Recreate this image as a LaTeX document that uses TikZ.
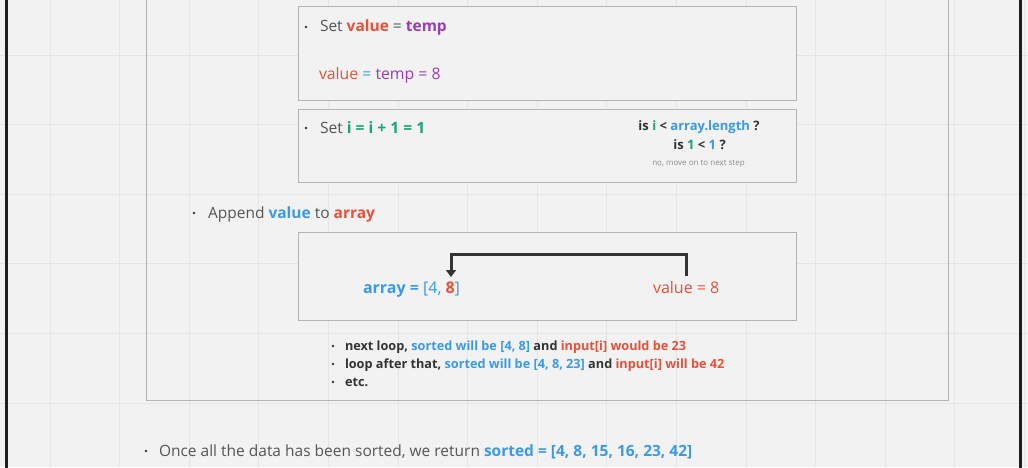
\documentclass[tikz,border=0pt]{standalone}
\usepackage{fontspec}
\setmainfont{Open Sans}
\usetikzlibrary{arrows.meta}
\definecolor{bg}{HTML}{F2F2F2}
\definecolor{gridc}{HTML}{E6E6E6}
\definecolor{framec}{HTML}{1E1E1E}
\definecolor{boxc}{HTML}{B4B4B4}
\definecolor{redc}{HTML}{E8503A}
\definecolor{bluec}{HTML}{3A9AE6}
\definecolor{greenc}{HTML}{17A37C}
\definecolor{purplec}{HTML}{9A3CB4}
\definecolor{darkc}{HTML}{333333}
\definecolor{grayc}{HTML}{555555}
\definecolor{hintc}{HTML}{8A8A8A}
\newcommand{\rd}[1]{\textcolor{redc}{#1}}
\newcommand{\bl}[1]{\textcolor{bluec}{#1}}
\newcommand{\gr}[1]{\textcolor{greenc}{#1}}
\newcommand{\pu}[1]{\textcolor{purplec}{#1}}
\begin{document}
\begin{tikzpicture}[x=1pt,y=-1pt,
  txt/.style={anchor=base west,inner sep=0pt,outer sep=0pt},
  panel/.style={draw=boxc,line width=1pt},
  dot/.style={circle,fill=darkc,inner sep=0pt,minimum size=2.6pt},
  link/.style={draw=darkc,line width=3pt,-{Triangle[length=7pt,width=10pt]}}]
% canvas
\fill[bg] (0,0) rectangle (1028,467);
\useasboundingbox (0,0) rectangle (1028,467);
% background grid
\foreach \k in {0,...,14} \draw[gridc,line width=0.8pt] ({50+69.6*\k},0) -- ({50+69.6*\k},467);
\foreach \k in {0,...,6} \draw[gridc,line width=0.8pt] (0,{55+69.6*\k}) -- (1028,{55+69.6*\k});
% outer frame
\draw[framec,line width=3pt] (6.5,-5) -- (6.5,472);
\draw[framec,line width=3pt] (1020.5,-5) -- (1020.5,472);
% enclosing loop panel
\draw[panel] (146,-5) -- (146,400.5) -- (948.5,400.5) -- (948.5,-5);

% panel 1: value = temp
\draw[panel,fill=bg] (298,6) rectangle (796.5,100);
\node[dot] (b1) at (306,27) {};
\node[txt,font=\fontsize{15.5}{17}\selectfont,text=grayc] (t1) at (320,31.5)
  {Set \textbf{\rd{value}} = \textbf{\pu{temp}}};
\node[txt,font=\fontsize{15.8}{18}\selectfont] (t2) at (319,79)
  {\rd{value} \bl{=} \pu{temp = 8}};

% panel 2: increment i
\draw[panel,fill=bg] (298,109) rectangle (796.5,182.5);
\node[dot] (b2) at (306,128) {};
\node[txt,font=\fontsize{15.6}{17}\selectfont,text=grayc] (t3) at (320,133.5)
  {Set \textbf{\gr{i = i + 1 = 1}}};
\node[anchor=base,inner sep=0pt,font=\bfseries\fontsize{13}{15}\selectfont,text=darkc] (q1) at (699,130.5)
  {is \gr{i} < \bl{array.length} ?};
\node[anchor=base,inner sep=0pt,font=\bfseries\fontsize{13}{15}\selectfont,text=darkc] (q2) at (699.5,149)
  {is \gr{1} < \bl{1} ?};
\node[anchor=base,inner sep=0pt,font=\fontsize{8}{9}\selectfont,text=hintc] (q3) at (698.5,165.5)
  {no, move on to next step};

% append step
\node[dot] (b3) at (194,213) {};
\node[txt,font=\fontsize{15.5}{17}\selectfont,text=grayc] (t4) at (208,218.5)
  {Append \textbf{\bl{value}} to \textbf{\rd{array}}};

% panel 3: appending value to array
\draw[panel,fill=bg] (298,232.5) rectangle (796.5,320.5);
\node[txt,font=\fontsize{16}{18}\selectfont,text=bluec] (arr) at (363,293)
  {\textbf{array =} [4, \textbf{\rd{8}}]};
\node[txt,font=\fontsize{16}{18}\selectfont,text=redc] (val) at (653,293)
  {value = 8};
\coordinate (src) at (686,276);
\coordinate (dst) at (451,277);
\draw[link] (src) -- (686,254) -- (451,254) -- (dst);

% upcoming loops
\node[dot] (b4) at (333,346) {};
\node[dot] (b5) at (333,364) {};
\node[dot] (b6) at (333,382) {};
\begin{scope}[every node/.style={txt,font=\bfseries\fontsize{12.7}{14}\selectfont,text=darkc}]
\node (l1) at (345,350.5) {next loop, \bl{sorted will be [4, 8]} and \rd{input[i] would be 23}};
\node (l2) at (345,368.5) {loop after that, \bl{sorted will be [4, 8, 23]} and \rd{input[i] will be 42}};
\node (l3) at (345,386.5) {etc.};
\end{scope}

% result
\node[dot] (b7) at (146,451) {};
\node[txt,font=\fontsize{15.5}{17}\selectfont,text=grayc] (t5) at (159,456.5)
  {Once all the data has been sorted, we return \textbf{\bl{sorted = [4, 8, 15, 16, 23, 42]}}};
\end{tikzpicture}
\end{document}
